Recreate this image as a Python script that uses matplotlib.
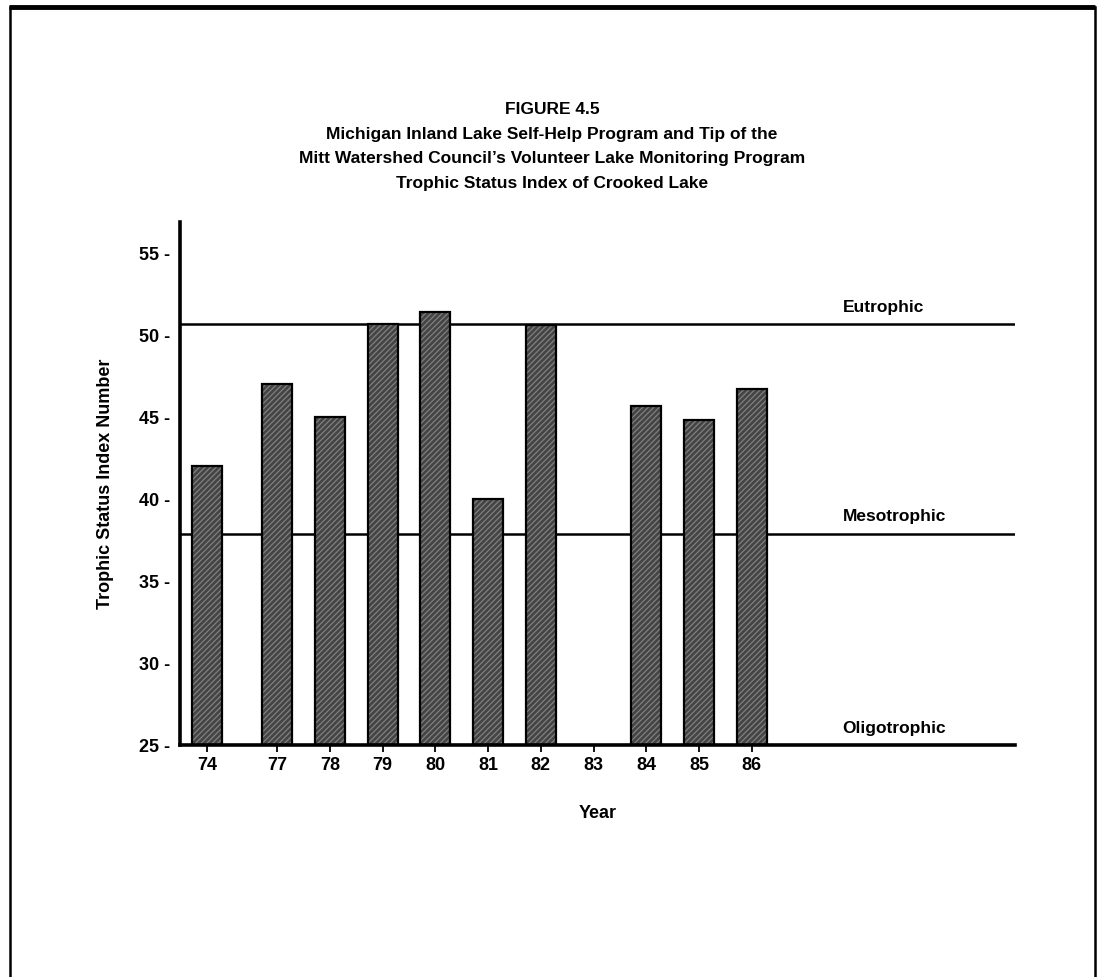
import matplotlib
matplotlib.use("Agg")
import matplotlib.pyplot as plt
import numpy as np
from matplotlib.lines import Line2D

years = ['74', '77', '78', '79', '80', '81', '82', '83', '84', '85', '86']
tsi = [42.0, 47.0, 45.0, 50.7, 51.4, 40.0, 50.6, np.nan, 45.7, 44.8, 46.7]
yticks = [25, 30, 35, 40, 45, 50, 55]
levels = [('Eutrophic', 50.7), ('Mesotrophic', 37.9), ('Oligotrophic', 25.0)]
title_lines = ['FIGURE 4.5',
               'Michigan Inland Lake Self-Help Program and Tip of the',
               'Mitt Watershed Council\u2019s Volunteer Lake Monitoring Program',
               'Trophic Status Index of Crooked Lake']

plt.rcParams['font.family'] = ['Liberation Sans Narrow', 'Liberation Sans', 'DejaVu Sans']
plt.rcParams['font.weight'] = 'bold'
plt.rcParams['hatch.linewidth'] = 0.9

W, H = 1100, 977
fig = plt.figure(figsize=(W / 100, H / 100), dpi=100)
fig.patch.set_facecolor('white')

# page frame
fig.add_artist(Line2D([9 / W, 1095 / W], [1 - 7 / H, 1 - 7 / H], color='black', lw=3.5,
                      transform=fig.transFigure, solid_capstyle='butt'))
fig.add_artist(Line2D([10 / W, 10 / W], [0, 1 - 7 / H], color='black', lw=1.8,
                      transform=fig.transFigure))
fig.add_artist(Line2D([1095 / W, 1095 / W], [0, 1 - 7 / H], color='black', lw=1.8,
                      transform=fig.transFigure))

fig.text(552 / W, 1 - 102 / H, '\n'.join(title_lines), ha='center', va='top',
         fontsize=12.5, fontweight='bold', linespacing=1.8)

ax = fig.add_axes([180 / W, 1 - 745 / H, (1015 - 180) / W, (745 - 222) / H])

# 74 is set apart a little wider than the other years
pos = np.r_[0.0, np.arange(1, len(years)) + 0.33]
ax.bar(pos, np.array(tsi) - 25, bottom=25, width=0.57, color='#444444',
       edgecolor='#808080', hatch='//////', linewidth=0, zorder=2)
ax.bar(pos, np.array(tsi) - 25, bottom=25, width=0.57, fill=False,
       edgecolor='black', linewidth=1.6, zorder=3)

for name, val in levels:
    ax.axhline(val, color='black', lw=1.8, zorder=1)
    ax.text(12.05, val + 0.55, name, ha='left', va='bottom', fontsize=12.5,
            fontweight='bold')

ax.set_xlim(-0.51, 15.32)
ax.set_ylim(25, 56.9)
ax.set_yticks(yticks)
ax.set_yticklabels([f'{v} -' for v in yticks], fontsize=13, fontweight='bold')
ax.tick_params(axis='y', length=0, pad=7)
ax.set_xticks(pos)
ax.set_xticklabels(years, fontsize=13, fontweight='bold')
ax.tick_params(axis='x', length=5, width=1.3, pad=4, direction='out')

for s in ['top', 'right']:
    ax.spines[s].set_visible(False)
ax.spines['left'].set_linewidth(2.6)
ax.spines['bottom'].set_linewidth(2.6)

ax.set_xlabel('Year', fontsize=13, fontweight='bold', labelpad=22)
ax.set_ylabel('Trophic Status Index Number', fontsize=13, fontweight='bold', labelpad=18)

fig.savefig('out.png', dpi=100, facecolor='white')
